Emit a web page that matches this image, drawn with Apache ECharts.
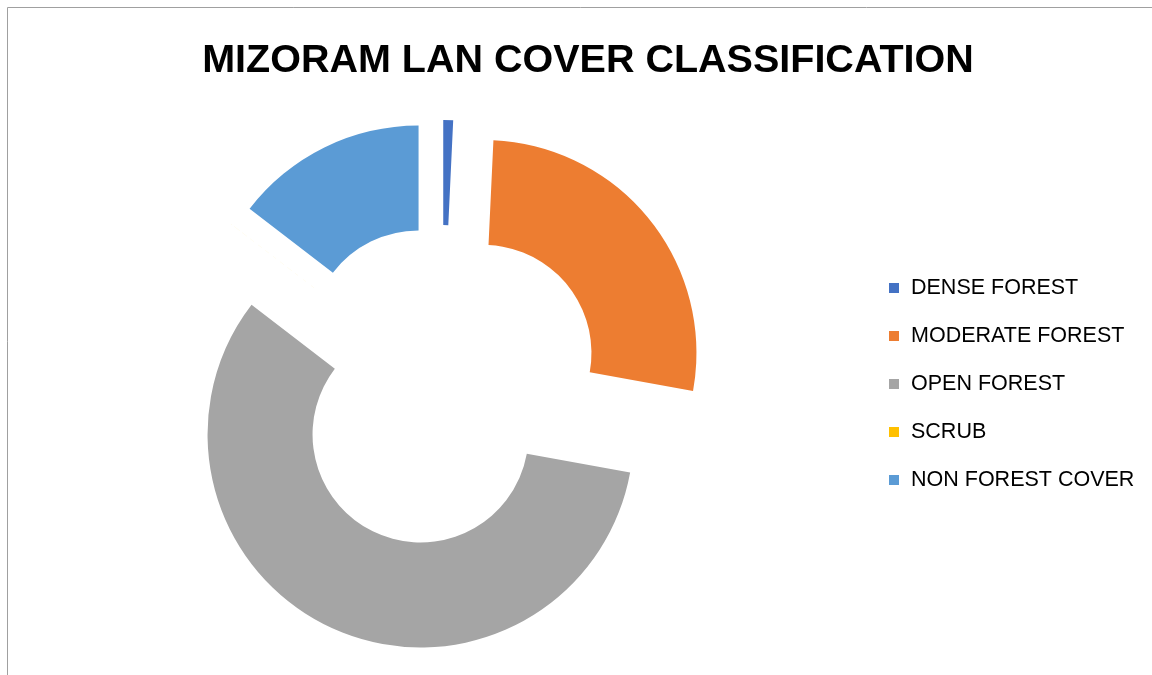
<!DOCTYPE html>
<html>
<head>
<meta charset="utf-8">
<script src="https://cdn.jsdelivr.net/npm/echarts@6/dist/echarts.min.js"></script>
<style>
  html, body { margin: 0; padding: 0; background: #fff; }
  #main { width: 1152px; height: 675px; }
</style>
</head>
<body>
<div id="main"></div>
<script>
// land cover classes, area in sq km
var classes = ['DENSE FOREST', 'MODERATE FOREST', 'OPEN FOREST', 'SCRUB', 'NON FOREST COVER'];
var areas = [157, 5715, 12134, 1, 3074];
var colors = ['#4472C4', '#ED7D31', '#A5A5A5', '#FFC000', '#5B9BD5'];

var chartDom = document.getElementById('main');
var myChart = echarts.init(chartDom);

var pieData = classes.map(function (name, i) {
  return { name: name, value: areas[i], selected: true, itemStyle: { color: colors[i] } };
});

var option = {
  animation: false,
  title: {
    text: 'MIZORAM LAN COVER CLASSIFICATION',
    left: 583,
    top: 36,
    textAlign: 'center',
    textStyle: { fontFamily: 'Liberation Sans', fontWeight: 'bold', fontSize: 39.5, color: '#000' }
  },
  legend: {
    orient: 'vertical',
    left: 889,
    top: 277,
    padding: 0,
    itemWidth: 10,
    itemHeight: 10,
    itemGap: 26,
    icon: 'rect',
    selectedMode: false,
    data: classes,
    textStyle: { fontFamily: 'Liberation Sans', fontSize: 21.5, lineHeight: 22, color: '#000', padding: [0, 0, 0, 7] }
  },
  graphic: [{
    type: 'rect',
    shape: { x: 7.5, y: 7.5, width: 1300, height: 800 },
    style: { fill: 'none', stroke: '#A0A0A0', lineWidth: 1 },
    silent: true
  }],
  series: [{
    type: 'pie',
    center: [442, 386],
    radius: [108, 213],
    startAngle: 90,
    clockwise: true,
    selectedMode: 'multiple',
    selectedOffset: 53,
    avoidLabelOverlap: false,
    label: { show: false },
    labelLine: { show: false },
    emphasis: { disabled: true },
    data: pieData
  }]
};

option && myChart.setOption(option);
</script>
</body>
</html>
